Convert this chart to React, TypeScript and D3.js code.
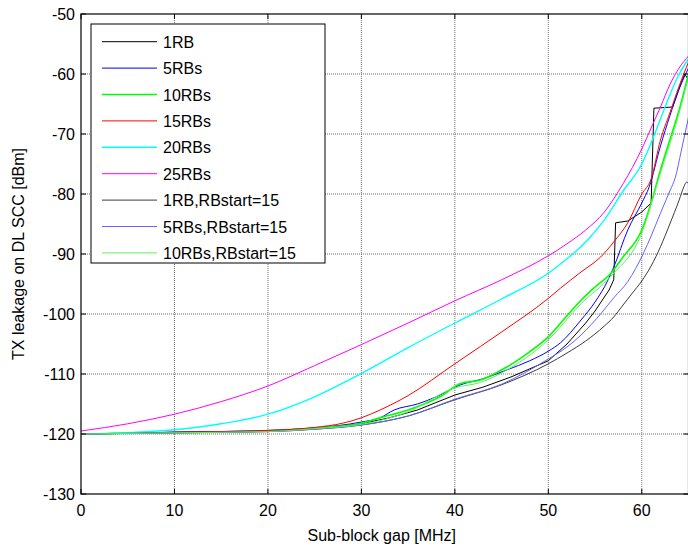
import * as d3 from "d3";

// chart size and plot box (pixels)
const WIDTH = 688;
const HEIGHT = 550;
const LEFT = 81;
const RIGHT = 688.5;
const TOP = 14;
const BOTTOM = 494;

const xTicks = [0, 10, 20, 30, 40, 50, 60];
const yTicks = [-130, -120, -110, -100, -90, -80, -70, -60, -50];

// gap [MHz] vs leakage [dBm]
const gap1RB = [0, 5, 10, 15, 20, 25, 30, 33, 36, 40, 43, 46, 50, 52, 54, 55, 56.5, 57, 57.2, 58.5, 60, 61, 61.3, 63.3, 64.2, 64.6, 65];
const tx1RB = [-120, -119.9, -119.7, -119.6, -119.5, -119, -118.3, -117.3, -116, -113.5, -112.2, -110.5, -107.8, -105, -101.5, -99.5, -96, -94.3, -84.8, -84.5, -83, -81.5, -65.7, -65.5, -61.5, -60, -61];

const gap5RB = [0, 10, 20, 25, 30, 32, 33.5, 36, 38, 40.6, 43, 45.6, 48, 50, 51.3, 53.5, 55, 56.4, 57, 58.5, 60, 60.8, 62, 63, 64, 65];
const tx5RB = [-120, -119.7, -119.4, -119, -118, -117.3, -116, -115, -113.8, -111.8, -110.8, -109.3, -107.8, -106.2, -104.8, -101, -98, -94.3, -92.2, -86, -81.5, -78.8, -72, -67, -62.5, -59];

const gap10RB = [0, 10, 20, 25, 30, 32, 35, 38.4, 40.6, 42.75, 45.6, 48, 50, 52, 53.5, 55, 56.7, 58, 60, 61, 62, 63, 64, 65];
const tx10RB = [-120, -119.8, -119.5, -119, -118.2, -117.3, -116, -113.8, -111.6, -111, -108.8, -106.3, -103.8, -100.3, -97.7, -95.5, -93.2, -90.5, -86, -81.5, -76, -71, -66, -60];

const gap15RB = [0, 10, 20, 25, 28, 30, 32, 35, 40, 42.75, 45, 50, 51.3, 53.5, 55.6, 57, 58.5, 60, 61, 62, 63, 64, 65];
const tx15RB = [-120, -119.7, -119.4, -118.9, -118.2, -117.3, -116, -113.6, -108.3, -105.4, -103, -97.4, -95.7, -93, -90.5, -88, -84.8, -80, -77.5, -71, -66.5, -62, -58];

const gap20RB = [0, 5, 10, 15, 20, 25, 30, 35, 40, 45, 50, 52, 54, 56, 58, 60, 61, 62, 63, 64, 65];
const tx20RB = [-120, -119.8, -119.3, -118.3, -116.7, -113.8, -109.9, -105.6, -101.5, -97.5, -93.2, -90.8, -88, -84.3, -79.5, -75, -71.5, -67.5, -63.5, -60, -57.5];

const gap25RB = [0, 5, 10, 15, 20, 25, 30, 35, 40, 45, 50, 52, 54, 56, 57, 58, 60, 61, 62, 63, 64, 65];
const tx25RB = [-119.5, -118.3, -116.7, -114.6, -112, -108.6, -105.1, -101.5, -97.8, -94.3, -90.3, -88.3, -86, -83, -80.8, -78.3, -72.5, -69, -65.5, -61.8, -59, -57];

const gap1RBs15 = [0, 10, 20, 25, 30, 35, 40, 45, 50, 52, 54, 56, 57, 58, 59, 60, 61, 62, 63, 64, 64.5, 64.8, 65];
const tx1RBs15 = [-120, -119.8, -119.6, -119.2, -118.5, -117, -114.3, -111.8, -108.3, -106.5, -104.5, -102, -100.5, -98.5, -96.5, -94.5, -92, -88.8, -85, -81, -78.8, -78, -78.3];

const gap5RBs15 = [0, 10, 20, 25, 30, 35, 40, 45, 50, 52, 53.5, 55.7, 57, 58.5, 60.2, 61, 62, 63, 63.6, 64.2, 65];
const tx5RBs15 = [-120, -119.8, -119.6, -119.2, -118.5, -117, -114.2, -111.7, -107.5, -105.5, -103.5, -99.8, -97.3, -94.6, -89.8, -87, -83.2, -79.5, -77.2, -73, -67.2];

const gap10RBs15 = [0, 10, 20, 25, 30, 35, 40, 42.75, 45.6, 50, 53.5, 56.7, 60, 62, 64, 65];
const tx10RBs15 = [-120, -119.8, -119.6, -119.1, -118.4, -116.3, -112.3, -111.4, -109.3, -104.3, -98.3, -93.7, -86.5, -76.5, -66.5, -60.5];

const series = [
  { name: "1RB", color: "#000000", width: 1, gap: gap1RB, tx: tx1RB, steps: true },
  { name: "5RBs", color: "#0000ff", width: 1, gap: gap5RB, tx: tx5RB },
  { name: "10RBs", color: "#00ff00", width: 1.6, gap: gap10RB, tx: tx10RB },
  { name: "15RBs", color: "#ff0000", width: 1, gap: gap15RB, tx: tx15RB },
  { name: "20RBs", color: "#00ffff", width: 1.4, gap: gap20RB, tx: tx20RB },
  { name: "25RBs", color: "#ff00ff", width: 1, gap: gap25RB, tx: tx25RB },
  { name: "1RB,RBstart=15", color: "#3c3c3c", width: 1, gap: gap1RBs15, tx: tx1RBs15 },
  { name: "5RBs,RBstart=15", color: "#6464ff", width: 1, gap: gap5RBs15, tx: tx5RBs15 },
  { name: "10RBs,RBstart=15", color: "#5cf05c", width: 1, gap: gap10RBs15, tx: tx10RBs15 },
];

const FONT = "'Liberation Sans', Arial, sans-serif";

export default function App() {
  const x = d3.scaleLinear().domain([0, 65]).range([LEFT, RIGHT]);
  const y = d3.scaleLinear().domain([-130, -50]).range([BOTTOM, TOP]);

  const pathFor = (s) =>
    d3
      .line<[number, number]>()
      .x((d) => x(d[0]))
      .y((d) => y(d[1]))
      .curve(s.steps ? d3.curveLinear : d3.curveMonotoneX)(
      s.gap.map((g, i) => [g, s.tx[i]])
    );

  // legend box
  const legX = 91;
  const legY = 24;
  const legW = 234;
  const legH = 239;
  const rowH = 26.4;

  return (
    <svg
      width={WIDTH}
      height={HEIGHT}
      style={{ position: "absolute", left: 0, top: 0, background: "#fff" }}
      fontFamily={FONT}
    >
      <defs>
        <clipPath id="plot">
          <rect x={LEFT} y={TOP} width={RIGHT - LEFT} height={BOTTOM - TOP} />
        </clipPath>
      </defs>
      <rect x={0} y={0} width={WIDTH} height={HEIGHT} fill="#fff" />

      {/* grid */}
      {xTicks.slice(1).map((t) => (
        <line
          key={"gx" + t}
          x1={x(t)}
          x2={x(t)}
          y1={TOP}
          y2={BOTTOM}
          stroke="#707070"
          strokeDasharray="1 1"
        />
      ))}
      {yTicks.slice(1, -1).map((t) => (
        <line
          key={"gy" + t}
          x1={LEFT}
          x2={RIGHT}
          y1={y(t)}
          y2={y(t)}
          stroke="#707070"
          strokeDasharray="1 1"
        />
      ))}

      {/* curves */}
      <g clipPath="url(#plot)" fill="none">
        {series.map((s) => (
          <path key={s.name} d={pathFor(s)} stroke={s.color} strokeWidth={s.width} />
        ))}
      </g>

      {/* frame + inner ticks */}
      <rect
        x={LEFT}
        y={TOP}
        width={RIGHT - LEFT}
        height={BOTTOM - TOP}
        fill="none"
        stroke="#000"
        strokeWidth={1.2}
      />
      {xTicks.map((t) => (
        <g key={"tx" + t}>
          <line x1={x(t)} x2={x(t)} y1={BOTTOM} y2={BOTTOM - 5} stroke="#000" />
          <line x1={x(t)} x2={x(t)} y1={TOP} y2={TOP + 5} stroke="#000" />
          <text x={x(t)} y={BOTTOM + 22} fontSize={16} textAnchor="middle">
            {t}
          </text>
        </g>
      ))}
      {yTicks.map((t) => (
        <g key={"ty" + t}>
          <line x1={LEFT} x2={LEFT + 5} y1={y(t)} y2={y(t)} stroke="#000" />
          <line x1={RIGHT - 5} x2={RIGHT} y1={y(t)} y2={y(t)} stroke="#000" />
          <text x={LEFT - 6} y={y(t) + 6} fontSize={16} textAnchor="end">
            {t}
          </text>
        </g>
      ))}

      <text x={(LEFT + RIGHT) / 2 - 3} y={541} fontSize={16} textAnchor="middle">
        Sub-block gap [MHz]
      </text>
      <text
        transform={`translate(24,${(TOP + BOTTOM) / 2}) rotate(-90)`}
        fontSize={16}
        textAnchor="middle"
      >
        TX leakage on DL SCC [dBm]
      </text>

      {/* legend */}
      <rect x={legX} y={legY} width={legW} height={legH} fill="#fff" stroke="#000" />
      {series.map((s, i) => {
        const cy = legY + 17.7 + i * rowH;
        return (
          <g key={"leg" + s.name}>
            <line x1={102} x2={157} y1={cy} y2={cy} stroke={s.color} strokeWidth={s.width} />
            <text x={163} y={cy + 6} fontSize={16}>
              {s.name}
            </text>
          </g>
        );
      })}
    </svg>
  );
}
